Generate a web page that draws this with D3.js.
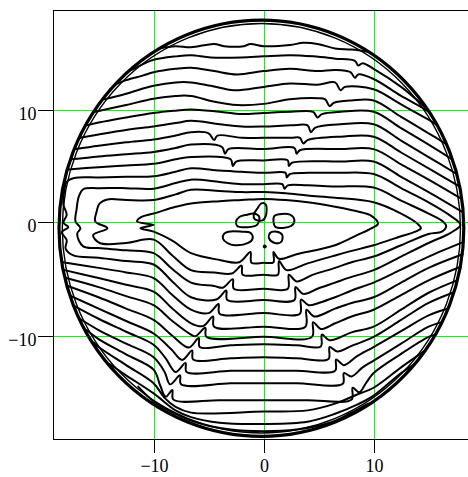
<!DOCTYPE html>
<html>
<head>
<meta charset="utf-8">
<script src="https://cdn.jsdelivr.net/npm/d3@7"></script>
<style>
  html, body { margin: 0; padding: 0; background: #fff; }
  svg { display: block; }
  .tick text { font-family: "Liberation Serif", "Times New Roman", serif; font-size: 18px; fill: #000; }
</style>
</head>
<body>
<svg id="chart" width="468" height="477"></svg>
<script>
// Axis settings
const xTicks = [-10, 0, 10];
const yTicks = [-10, 0, 10];
const xDomain = [-19.1, 19.1];
const yDomain = [-19.1, 18.8];

// Circular boundary of the field
const rim = { cx: -0.2, cy: -0.5, r: 18.4 };

// Level lines above the centre, from the top down
const upperLines = [
  [[-9.5,15.4],[-8,15.6],[-6.6,15.5],[-4.5,15.8],[-3.6,15.6],[-1.8,15.6],[-1.2,15.8],[0,15.6],[2.4,15.7],[3.6,15.9],[4.9,15.8],[6.5,15.4],[8,15.3],[9.5,15.1]],
  [[-12.0,13.5],[-11,14.0],[-10,14.4],[-8,14.7],[-6.6,14.8],[-4.8,14.6],[-2,14.6],[0,14.7],[2.4,14.8],[4.5,14.7],[6.5,14.5],[8.3,14.3],[8.6,13.9],[9.0,14.1],[10,13.6],[12.5,12.0],[14.8,10.1]],
  [[-13.3,12.3],[-12.5,12.6],[-11,13.0],[-10,13.3],[-8,13.6],[-6.6,13.7],[-4.5,13.4],[-2.4,13.1],[0,13.4],[2.4,13.6],[4.9,13.4],[6.5,13.5],[7.9,13.3],[8.3,12.8],[8.6,13.1],[10,12.7],[12.5,11.2],[15,9.8],[15.3,9.4]],
  [[-14.5,10.9],[-12.5,11.4],[-10,12.1],[-8,12.4],[-6.6,12.4],[-4.8,12.1],[-2.7,11.7],[0,12.0],[2.4,12.3],[4.9,12.2],[6.5,12.4],[7.0,11.7],[7.4,12.0],[10,11.8],[12.5,10.45],[15,9.1],[15.8,8.6]],
  [[-15.3,9.8],[-12.5,10.4],[-10,10.95],[-8,11.2],[-6.6,11.2],[-4.5,10.7],[-2.4,10.4],[0,10.5],[2.4,10.9],[4.9,11.0],[5.6,10.9],[6.0,10.3],[6.4,10.6],[8,10.8],[10,10.8],[12.5,9.35],[15,7.9],[16.6,6.95]],
  [[-16.1,8.6],[-15,8.85],[-12.5,9.3],[-10,9.7],[-8,9.9],[-6.6,10.0],[-4,9.8],[-2,9.6],[0,9.7],[2.5,9.8],[4.5,9.8],[4.9,9.3],[5.3,9.6],[7,9.8],[10,9.8],[12.5,8.35],[15,6.9],[17.15,5.6]],
  [[-16.7,7.5],[-15,7.8],[-12.5,8.2],[-10,8.5],[-8,8.8],[-6.6,9.0],[-4,8.7],[-2,8.5],[0,8.5],[2.5,8.6],[4.0,8.6],[4.3,8.0],[4.7,8.4],[7,8.7],[10,8.7],[12.5,7.25],[15,5.8],[17.55,4.3]],
  [[-17.1,6.5],[-15,6.8],[-12.5,7.1],[-10,7.35],[-8,7.7],[-6.6,8.0],[-5,7.9],[-4.5,7.3],[-4.2,7.7],[-2,7.5],[0,7.5],[2.5,7.5],[3.3,7.5],[3.6,7.0],[4.0,7.3],[7,7.6],[10,7.6],[12.5,6.2],[15,4.8],[17.8,3.2]],
  [[-17.45,5.6],[-15,5.85],[-12.5,6.05],[-10,6.25],[-8,6.6],[-6.6,6.9],[-3.8,6.7],[-3.5,6.1],[-3.2,6.5],[0,6.5],[2.8,6.6],[3.0,6.1],[3.3,6.4],[7,6.5],[10,6.5],[12.5,5.15],[15,3.8],[18.0,2.1]],
  [[-17.75,4.7],[-15,4.9],[-12.5,5.05],[-10,5.2],[-8,5.6],[-6.6,5.8],[-3,5.6],[-2.8,5.0],[-2.5,5.4],[0,5.5],[2.2,5.5],[2.3,5.0],[2.6,5.3],[7,5.4],[10,5.4],[12.5,4.05],[15,2.7],[18.15,0.9]]
];

// Closed level lines around the centre, outermost first
// (each starts near its left tip, runs along the top, then back along the bottom)
const innerLoops = [
  [[-17.9,0.7],[-18.2,1.6],[-18.15,2.6],[-17.9,3.6],[-17.2,3.95],[-15,4.0],[-12.5,4.05],[-10,4.1],[-8,4.5],[-6.6,4.8],[-4,4.6],[-2,4.5],[0,4.4],[2.0,4.4],[2.1,4.0],[2.4,4.3],[4,4.4],[6.5,4.4],[10,4.3],[12.5,3.05],[15,1.8],[17,0.6],[17.9,-0.2],
   [17,-0.9],[15,-1.8],[12.5,-3.0],[10,-4.2],[8,-4.8],[6.5,-5.3],[5,-5.8],[3.6,-6.3],[2.9,-5.7],[2.8,-6.85],[0,-6.85],[-3.3,-6.85],[-3.4,-6.0],[-4.3,-6.8],[-6.6,-6.6],[-8.3,-5.2],[-10,-3.7],[-12.5,-3.4],[-15,-3.1],[-17.3,-2.9],[-18.0,-2.3],[-17.9,-1.55],[-18.35,-0.85],[-17.75,-0.4],[-18.2,0.0]],
  [[-17.1,0.1],[-17.0,1.2],[-16.8,2.3],[-16.4,2.95],[-15,3.05],[-12.5,3.05],[-10,3.0],[-8,3.5],[-6.6,3.8],[-4,3.6],[-2,3.4],[0,3.4],[1.7,3.4],[1.9,3.0],[2.2,3.3],[4,3.3],[6.5,3.2],[10,3.1],[12.5,1.95],[15,0.8],[16.3,0.1],[16.6,-0.3],
   [16.2,-0.8],[15,-1.0],[12.5,-2.0],[10,-3.0],[8,-3.5],[6.5,-4.0],[4.5,-4.6],[3.0,-5.2],[2.3,-4.6],[2.2,-5.85],[0,-5.85],[-2.7,-5.85],[-2.8,-5.0],[-3.7,-5.75],[-4.5,-5.6],[-6.6,-5.3],[-8.3,-4.1],[-10,-2.7],[-12.5,-2.45],[-15,-2.25],[-16.4,-2.1],[-16.95,-1.0],[-16.65,-0.5]],
  [[-15.3,0.1],[-15.2,0.9],[-14.9,1.7],[-14.2,2.05],[-12.5,2.0],[-10,2.0],[-8,2.5],[-6.6,2.9],[-4,2.8],[-2,2.7],[0,2.7],[2,2.6],[4,2.4],[6.5,2.2],[10,1.8],[12.5,0.8],[14.0,-0.1],[14.3,-0.5],
   [13.8,-0.8],[12.5,-1.2],[10,-2.0],[8,-2.5],[6.5,-2.9],[4,-3.6],[2.1,-4.2],[1.4,-3.4],[1.3,-4.6],[0,-4.6],[-1.9,-4.6],[-2.0,-3.8],[-2.9,-4.5],[-4.5,-4.4],[-6.6,-4.2],[-8.3,-2.9],[-10,-1.5],[-12.5,-1.8],[-14.9,-1.8],[-15.5,-1.1],[-14.2,-0.5]],
  [[-11.5,0.1],[-11.1,0.5],[-10,0.8],[-8,1.4],[-6.6,1.7],[-4,1.9],[-2,2.0],[0,2.1],[2,2.0],[4,1.8],[6.5,1.4],[8.5,1.0],[9.8,0.6],[10.4,-0.1],
   [9.8,-0.5],[8.5,-1.1],[6.5,-2.0],[3,-2.8],[1.4,-3.2],[0.9,-2.6],[0.9,-3.5],[0,-3.55],[-1.1,-3.55],[-1.2,-2.6],[-2.2,-3.5],[-4,-3.3],[-6.6,-2.7],[-8.3,-1.6],[-10,-0.8],[-11.2,-0.5],[-10.0,-0.2]]
];

// Level lines below the centre, from the top down
const lowerLines = [
  [[-18.25,-3.5],[-15,-4.0],[-12.5,-4.4],[-10,-4.9],[-8.3,-6.4],[-6.6,-7.7],[-5.0,-8.0],[-4.1,-7.2],[-4.0,-8.05],[0,-8.0],[3.3,-8.05],[3.4,-6.8],[4.1,-7.3],[5,-7.1],[6.5,-6.6],[8,-6.0],[10,-5.3],[12.5,-4.15],[15,-3.0],[18.2,-1.7]],
  [[-18.1,-4.2],[-15,-4.9],[-12.5,-5.5],[-10,-6.1],[-8.3,-7.6],[-6.6,-8.9],[-5.5,-9.15],[-4.6,-8.3],[-4.5,-9.2],[0,-9.2],[3.8,-9.2],[3.9,-7.7],[4.6,-8.3],[6.5,-7.6],[8,-7.1],[10,-6.6],[12.5,-5.3],[15,-4.0],[18.1,-2.8]],
  [[-17.95,-4.9],[-15,-5.7],[-12.5,-6.5],[-10,-7.3],[-8.3,-8.7],[-6.6,-9.9],[-6.2,-10.05],[-5.3,-9.3],[-5.2,-10.1],[0,-10.1],[4.4,-10.1],[4.5,-8.8],[5.2,-9.4],[6.5,-8.9],[8,-8.3],[10,-7.7],[12.5,-6.4],[15,-5.1],[17.9,-3.9]],
  [[-17.8,-5.6],[-15,-6.6],[-12.5,-7.6],[-10,-8.6],[-8.3,-10.0],[-6.8,-11.05],[-5.9,-10.2],[-5.8,-11.0],[-3,-10.85],[0,-10.75],[3,-10.85],[5.2,-10.95],[5.3,-9.9],[6.0,-10.4],[8,-9.7],[10,-9.2],[12.5,-7.7],[15,-6.2],[17.6,-5.1]],
  [[-17.5,-6.5],[-15,-7.6],[-12.5,-8.7],[-10,-9.8],[-8.4,-11.2],[-7.4,-12.15],[-6.5,-11.3],[-6.4,-12.1],[-3,-12.0],[0,-11.9],[3,-12.0],[5.9,-12.05],[6.0,-11.0],[6.7,-11.4],[8,-10.9],[10,-10.1],[12.5,-8.6],[15,-7.1],[17.2,-6.2]],
  [[-17.15,-7.4],[-15,-8.5],[-12.5,-9.65],[-10,-10.8],[-8.9,-12.0],[-8.0,-13.2],[-7.1,-12.4],[-7.0,-13.2],[-3,-13.1],[0,-13.1],[3,-13.1],[6.5,-13.1],[6.6,-12.1],[7.3,-12.6],[8.5,-11.8],[10,-11.0],[12.5,-9.6],[15,-8.2],[16.8,-7.6]],
  [[-16.7,-8.5],[-15,-9.5],[-12.5,-10.7],[-10,-11.9],[-9.0,-13.2],[-8.5,-14.3],[-7.6,-13.5],[-7.5,-14.3],[-3,-14.2],[0,-14.2],[3,-14.2],[7.2,-14.25],[7.3,-13.3],[8.0,-13.6],[9,-12.8],[10,-12.2],[12.5,-10.7],[15,-9.2],[16.2,-8.8]],
  [[-16.1,-9.5],[-15,-10.3],[-12.5,-11.65],[-10,-13.0],[-9.4,-14.4],[-8.9,-15.4],[-8.3,-14.8],[-8.2,-15.65],[-4,-15.7],[0,-15.7],[4,-15.7],[8.0,-15.65],[8.1,-14.6],[8.7,-15.0],[9.3,-14.2],[10,-13.3],[12.5,-11.6],[15,-10.1],[15.6,-9.9]],
  [[-15.45,-10.6],[-15,-11.0],[-12.5,-12.6],[-10,-14.2],[-9.0,-15.5],[-8.0,-16.3],[-6.6,-16.8],[0,-16.7],[4,-16.6],[6.5,-16.0],[8.5,-15.2],[10,-14.6],[12.5,-12.8],[14.7,-11.3]],
  [[-14.0,-12.5],[-12.5,-13.5],[-10,-15.1],[-8,-16.6],[-6.6,-17.2],[-4,-17.7],[0,-17.8],[4,-17.6],[6.5,-16.9],[8.5,-16.1],[10,-15.3],[12.5,-13.3],[13.6,-12.6]],
  [[-11.4,-14.5],[-10,-15.8],[-8,-16.9],[-6,-17.7],[-3,-18.3],[0,-18.45],[3,-18.3],[6,-17.7],[7.8,-16.9],[9.5,-16.0]]
];

// Small closed pockets near the centre
const islands = [
  [[-0.2,1.7],[0.2,1.6],[0.2,0.6],[-0.1,0.2],[-0.8,0.3],[-0.9,0.7],[-0.6,1.2]],
  [[-2.5,0.1],[-2.2,0.5],[-1.5,0.7],[-0.9,0.8],[-0.4,0.5],[-0.6,-0.2],[-1.5,-0.4],[-2.4,-0.3]],
  [[1.0,0.6],[2.4,0.7],[2.8,0.2],[2.5,-0.3],[1.1,-0.4],[0.9,0.1]],
  [[-3.6,-1.0],[-3.2,-0.8],[-2.0,-0.8],[-1.2,-0.9],[-1.0,-1.4],[-1.4,-1.8],[-2.6,-2.0],[-3.3,-1.8],[-3.7,-1.4]],
  [[0.6,-0.9],[1.2,-0.8],[1.7,-1.1],[1.6,-1.7],[1.0,-1.8],[0.5,-1.4]]
];
const centreDot = [0.1, -2.1];

const svg = d3.select("#chart");
const plotLeft = 53.5, plotTop = 10;

const x = d3.scaleLinear().domain(xDomain).range([plotLeft, plotLeft + 11.0 * (xDomain[1] - xDomain[0])]);
const y = d3.scaleLinear().domain(yDomain).range([plotTop + 11.31 * (yDomain[1] - yDomain[0]), plotTop]);

// Hairlines snapped to whole pixels
const px = v => Math.floor(x(v)) + 0.5;
const py = v => Math.round(y(v)) + 0.5;
const gx = v => 2 * Math.round(x(v) / 2) + 0.5;
const gy = v => 2 * Math.round(y(v) / 2) + 0.5;
const xL = px(xDomain[0]), xR = x(xDomain[1]);
const yT = py(yDomain[1]), yB = py(yDomain[0]);

// Green grid
const grid = svg.append("g").attr("stroke", "#00ff00").attr("stroke-width", 1).attr("shape-rendering", "crispEdges");
grid.selectAll("line.v").data(xTicks).join("line").attr("class", "v")
  .attr("x1", gx).attr("x2", gx).attr("y1", yT).attr("y2", yB);
grid.selectAll("line.h").data(yTicks).join("line").attr("class", "h")
  .attr("y1", gy).attr("y2", gy).attr("x1", xL).attr("x2", xR);

// Contours
const line = d3.line().x(d => x(d[0])).y(d => y(d[1])).curve(d3.curveCatmullRom.alpha(0.5));
const closed = d3.line().x(d => x(d[0])).y(d => y(d[1])).curve(d3.curveCatmullRomClosed.alpha(0.5));
const contours = svg.append("g")
  .attr("fill", "none").attr("stroke", "#000").attr("stroke-width", 2)
  .attr("stroke-linejoin", "round").attr("stroke-linecap", "round");

contours.selectAll("path.up").data(upperLines).join("path").attr("class", "up").attr("d", line);
contours.selectAll("path.low").data(lowerLines).join("path").attr("class", "low").attr("d", line);
contours.selectAll("path.loop").data(innerLoops).join("path").attr("class", "loop").attr("d", closed);
contours.selectAll("path.isl").data(islands).join("path").attr("class", "isl").attr("d", closed);

svg.append("circle")
  .attr("cx", x(centreDot[0])).attr("cy", y(centreDot[1])).attr("r", 2).attr("fill", "#000");

// Rim: heavy outer ring with a thinner companion just inside
svg.append("ellipse")
  .attr("cx", x(rim.cx)).attr("cy", y(rim.cy))
  .attr("rx", x(rim.r) - x(0)).attr("ry", y(0) - y(rim.r))
  .attr("fill", "none").attr("stroke", "#000").attr("stroke-width", 3.2);
svg.append("ellipse")
  .attr("cx", x(rim.cx)).attr("cy", y(rim.cy))
  .attr("rx", x(rim.r - 0.3) - x(0)).attr("ry", y(0) - y(rim.r - 0.3))
  .attr("fill", "none").attr("stroke", "#000").attr("stroke-width", 1.4);

// Frame (open on the right, where it runs past the page)
svg.append("path")
  .attr("d", `M${xR},${yT}H${xL}V${yB}H${xR}`)
  .attr("fill", "none").attr("stroke", "#000").attr("stroke-width", 1)
  .attr("shape-rendering", "crispEdges");

// Axes
const fmt = d => d < 0 ? "\u2212" + Math.abs(d) : String(d);
const xAxis = svg.append("g").attr("transform", `translate(0,${yB})`)
  .call(d3.axisBottom(x).tickValues(xTicks).tickSize(13).tickPadding(7).tickFormat(fmt));
const yAxis = svg.append("g").attr("transform", `translate(${xL},0)`)
  .call(d3.axisLeft(y).tickValues(yTicks).tickSize(16).tickPadding(1).tickFormat(fmt));
[xAxis, yAxis].forEach(g => {
  g.select(".domain").remove();
  g.selectAll(".tick line").attr("stroke", "#000").attr("shape-rendering", "crispEdges");
  g.attr("font-family", null).attr("font-size", null);
});
xAxis.selectAll(".tick").attr("transform", d => `translate(${gx(d)},0)`);
yAxis.selectAll(".tick").attr("transform", d => `translate(0,${gy(d)})`);
yAxis.selectAll(".tick text").attr("dy", "0.5em");
</script>
</body>
</html>
